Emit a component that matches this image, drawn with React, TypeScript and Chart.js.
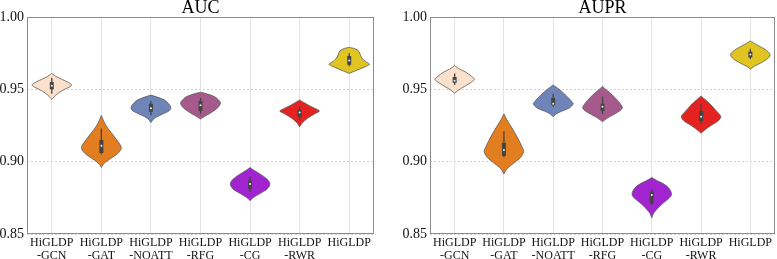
import React, { useEffect, useRef } from 'react';
import { Chart, registerables } from 'chart.js';
Chart.register(...registerables);

const CATEGORIES = [
  ['HiGLDP', '-GCN'],
  ['HiGLDP', '-GAT'],
  ['HiGLDP', '-NOATT'],
  ['HiGLDP', '-RFG'],
  ['HiGLDP', '-CG'],
  ['HiGLDP', '-RWR'],
  ['HiGLDP'],
];
const COLORS = ['#FBE1CB', '#E27E1F', '#6F84B8', '#A65A8C', '#A223D0', '#E4221F', '#E0C421'];
const Y_TICKS = [0.85, 0.9, 0.95, 1.0];

// inner box stats: whisker low, q1, median, q3, whisker high
const AUC_WLO = [0.947, 0.905, 0.932, 0.933, 0.879, 0.929, 0.966];
const AUC_Q1 = [0.950, 0.906, 0.9345, 0.935, 0.881, 0.931, 0.967];
const AUC_MED = [0.9525, 0.911, 0.937, 0.939, 0.8845, 0.934, 0.970];
const AUC_Q3 = [0.955, 0.915, 0.940, 0.942, 0.887, 0.936, 0.973];
const AUC_WHI = [0.958, 0.923, 0.942, 0.944, 0.890, 0.938, 0.975];

const AUPR_WLO = [0.953, 0.903, 0.938, 0.933, 0.870, 0.926, 0.971];
const AUPR_Q1 = [0.9545, 0.904, 0.939, 0.935, 0.871, 0.928, 0.972];
const AUPR_MED = [0.956, 0.908, 0.940, 0.938, 0.877, 0.931, 0.974];
const AUPR_Q3 = [0.9585, 0.913, 0.944, 0.940, 0.879, 0.935, 0.976];
const AUPR_WHI = [0.961, 0.921, 0.947, 0.945, 0.881, 0.940, 0.978];

// density outlines: [value, relative half-width], top to bottom
const AUC_DENSITY = [
  [[0.961, 0], [0.959, 0.2], [0.957, 0.5], [0.955, 0.8], [0.953, 1.0], [0.951, 0.8], [0.949, 0.5], [0.946, 0.2], [0.943, 0]],
  [[0.932, 0], [0.928, 0.12], [0.924, 0.28], [0.920, 0.5], [0.915, 0.78], [0.910, 1.0], [0.906, 0.85], [0.902, 0.45], [0.899, 0.15], [0.896, 0]],
  [[0.946, 0], [0.944, 0.45], [0.942, 0.75], [0.939, 0.95], [0.937, 1.0], [0.935, 0.9], [0.933, 0.6], [0.931, 0.3], [0.929, 0.1], [0.927, 0]],
  [[0.948, 0], [0.947, 0.3], [0.945, 0.7], [0.942, 0.95], [0.940, 1.0], [0.937, 0.85], [0.934, 0.55], [0.932, 0.3], [0.9295, 0]],
  [[0.896, 0], [0.894, 0.2], [0.891, 0.55], [0.888, 0.85], [0.8845, 1.0], [0.881, 0.85], [0.878, 0.5], [0.875, 0.15], [0.873, 0]],
  [[0.9426, 0], [0.941, 0.2], [0.939, 0.45], [0.937, 0.75], [0.935, 1.0], [0.933, 0.75], [0.930, 0.4], [0.927, 0.15], [0.924, 0]],
  [[0.979, 0], [0.978, 0.3], [0.976, 0.5], [0.973, 0.58], [0.970, 0.75], [0.968, 0.97], [0.967, 1.0], [0.965, 0.7], [0.963, 0.35], [0.961, 0]],
];
const AUPR_DENSITY = [
  [[0.9664, 0], [0.964, 0.25], [0.962, 0.55], [0.959, 0.85], [0.957, 1.0], [0.955, 0.85], [0.952, 0.5], [0.9495, 0.2], [0.9473, 0]],
  [[0.933, 0], [0.929, 0.15], [0.925, 0.33], [0.920, 0.55], [0.915, 0.75], [0.910, 0.93], [0.907, 1.0], [0.903, 0.85], [0.899, 0.5], [0.895, 0.15], [0.8915, 0]],
  [[0.953, 0], [0.950, 0.3], [0.947, 0.55], [0.944, 0.78], [0.941, 0.97], [0.9395, 1.0], [0.937, 0.8], [0.935, 0.45], [0.933, 0.15], [0.931, 0]],
  [[0.952, 0], [0.949, 0.25], [0.946, 0.5], [0.943, 0.72], [0.940, 0.9], [0.937, 1.0], [0.934, 0.75], [0.931, 0.35], [0.9277, 0]],
  [[0.889, 0], [0.887, 0.25], [0.885, 0.55], [0.882, 0.85], [0.878, 1.0], [0.875, 0.9], [0.871, 0.55], [0.867, 0.25], [0.864, 0.08], [0.861, 0]],
  [[0.9454, 0], [0.943, 0.2], [0.940, 0.45], [0.937, 0.65], [0.934, 0.85], [0.931, 1.0], [0.928, 0.85], [0.925, 0.5], [0.922, 0.2], [0.9196, 0]],
  [[0.9834, 0], [0.981, 0.3], [0.978, 0.7], [0.976, 0.9], [0.9737, 1.0], [0.971, 0.85], [0.968, 0.5], [0.966, 0.2], [0.964, 0]],
];

const FONT = '"Liberation Serif", "Times New Roman", serif';

type Panel = {
  title: string;
  density: number[][][];
  wlo: number[]; q1: number[]; med: number[]; q3: number[]; whi: number[];
};

function makePlugin(p: Panel) {
  return {
    id: 'violins',
    beforeDatasetsDraw(chart: any) {
      const { ctx, chartArea } = chart;
      ctx.save();
      ctx.strokeStyle = '#8c8c8c';
      ctx.lineWidth = 1;
      ctx.strokeRect(chartArea.left + 0.5, chartArea.top + 0.5, chartArea.right - chartArea.left - 1, chartArea.bottom - chartArea.top - 1);
      ctx.restore();
    },
    afterDatasetsDraw(chart: any) {
      const { ctx } = chart;
      const x = chart.scales.x;
      const y = chart.scales.y;
      const step = x.getPixelForValue(1) - x.getPixelForValue(0);
      const maxHalf = step * 0.4;
      ctx.save();
      p.density.forEach((prof, i) => {
        const cx = x.getPixelForValue(i);
        const pts = prof.map(([v, w]) => ({ x: cx + w * maxHalf, y: y.getPixelForValue(v) }));
        const left = pts.slice().reverse().map((q) => ({ x: 2 * cx - q.x, y: q.y }));
        const path = (arr: { x: number; y: number }[], first: boolean) => {
          if (first) ctx.moveTo(arr[0].x, arr[0].y);
          for (let k = 0; k < arr.length - 1; k++) {
            const p0 = arr[k - 1] || arr[k];
            const p1 = arr[k];
            const p2 = arr[k + 1];
            const p3 = arr[k + 2] || p2;
            ctx.bezierCurveTo(
              p1.x + (p2.x - p0.x) / 6, p1.y + (p2.y - p0.y) / 6,
              p2.x - (p3.x - p1.x) / 6, p2.y - (p3.y - p1.y) / 6,
              p2.x, p2.y
            );
          }
        };
        ctx.beginPath();
        path(pts, true);
        path(left, false);
        ctx.closePath();
        ctx.fillStyle = COLORS[i];
        ctx.fill();
        ctx.strokeStyle = '#5a5a5a';
        ctx.lineWidth = 0.8;
        ctx.stroke();

        // inner box
        ctx.strokeStyle = '#444444';
        ctx.lineCap = 'butt';
        ctx.lineWidth = 1.3;
        ctx.beginPath();
        ctx.moveTo(cx, y.getPixelForValue(p.wlo[i]));
        ctx.lineTo(cx, y.getPixelForValue(p.whi[i]));
        ctx.stroke();
        ctx.lineWidth = 4;
        ctx.beginPath();
        ctx.moveTo(cx, y.getPixelForValue(p.q1[i]));
        ctx.lineTo(cx, y.getPixelForValue(p.q3[i]));
        ctx.stroke();
        ctx.fillStyle = '#f2f2f2';
        ctx.beginPath();
        ctx.arc(cx, y.getPixelForValue(p.med[i]), 1.0, 0, Math.PI * 2);
        ctx.fill();
      });
      ctx.restore();
    },
    afterDraw(chart: any) {
      const { ctx, chartArea } = chart;
      ctx.save();
      ctx.fillStyle = '#000';
      ctx.font = `18px ${FONT}`;
      ctx.textAlign = 'center';
      ctx.textBaseline = 'alphabetic';
      ctx.fillText(p.title, (chartArea.left + chartArea.right) / 2, 13);
      ctx.restore();
    },
  };
}

function ViolinPanel({ panel, width, yWidth, padRight }: { panel: Panel; width: number; yWidth: number; padRight: number }) {
  const ref = useRef<HTMLCanvasElement>(null);
  useEffect(() => {
    if (!ref.current) return;
    const chart = new Chart(ref.current, {
      type: 'line',
      data: { labels: CATEGORIES as any, datasets: [] },
      options: {
        animation: false,
        responsive: false,
        layout: { padding: { top: 17, right: padRight, left: 0, bottom: 0 } },
        plugins: { legend: { display: false }, tooltip: { enabled: false }, title: { display: false } },
        scales: {
          x: {
            type: 'category',
            offset: true,
            grid: { color: '#e3e3e3', offset: false, drawTicks: false },
            border: { display: false },
            ticks: {
              autoSkip: false,
              maxRotation: 0,
              minRotation: 0,
              padding: 2,
              color: '#111',
              font: { family: FONT, size: 12, lineHeight: 1.1 },
            },
            afterFit: (s: any) => { s.height = 25; },
          },
          y: {
            min: 0.85,
            max: 1.0,
            afterBuildTicks: (s: any) => { s.ticks = Y_TICKS.map((v) => ({ value: v })); },
            grid: { color: '#d4d4d4', drawTicks: false },
            border: { display: false, dash: [2, 2] },
            ticks: {
              padding: 3,
              color: '#111',
              font: { family: FONT, size: 14 },
              callback: (v: any) => Number(v).toFixed(2),
            },
            afterFit: (s: any) => { s.width = yWidth; },
          },
        },
      },
      plugins: [makePlugin(panel)],
    } as any);
    return () => chart.destroy();
  }, []);
  return <canvas ref={ref} width={width} height={259} style={{ display: 'block', width, height: 259 }} />;
}

export default function App() {
  const auc: Panel = { title: 'AUC', density: AUC_DENSITY, wlo: AUC_WLO, q1: AUC_Q1, med: AUC_MED, q3: AUC_Q3, whi: AUC_WHI };
  const aupr: Panel = { title: 'AUPR', density: AUPR_DENSITY, wlo: AUPR_WLO, q1: AUPR_Q1, med: AUPR_MED, q3: AUPR_Q3, whi: AUPR_WHI };
  return (
    <div style={{ position: 'absolute', left: 0, top: 0, width: 777, height: 259, background: '#fff', display: 'flex' }}>
      <ViolinPanel panel={auc} width={388} yWidth={27} padRight={14} />
      <ViolinPanel panel={aupr} width={389} yWidth={42} padRight={2} />
    </div>
  );
}
